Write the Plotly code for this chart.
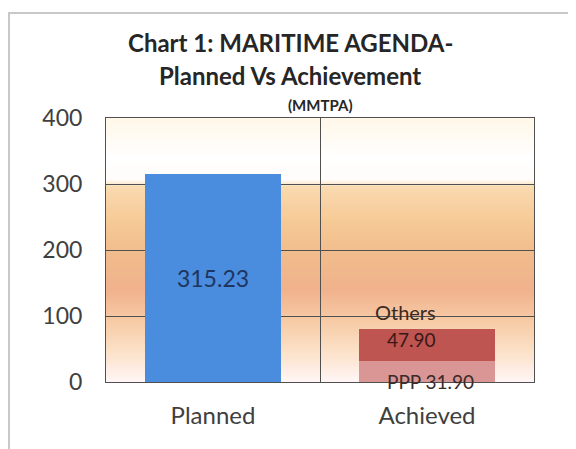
import plotly.graph_objects as go

# ---- data ----
categories = ["Planned", "Achieved"]
planned_values = [315.23, None]
ppp_values = [None, 31.90]
others_values = [None, 47.90]
y_ticks = [0, 100, 200, 300, 400]

FONT = "Lato"

fig = go.Figure()
fig.add_trace(go.Bar(
    x=categories, y=planned_values, marker=dict(color="#4A8CDD", line=dict(width=0)),
    text=[f"{v:.2f}" if v is not None else "" for v in planned_values],
    textposition="inside", insidetextanchor="middle",
    textfont=dict(family=FONT, size=23, color="#1F3560"),
    showlegend=False, hoverinfo="skip",
))
fig.add_trace(go.Bar(
    x=categories, y=ppp_values, marker=dict(color="#D99694", line=dict(width=0)),
    showlegend=False, hoverinfo="skip",
))
fig.add_trace(go.Bar(
    x=categories, y=others_values, marker=dict(color="#BE5550", line=dict(width=0)),
    showlegend=False, hoverinfo="skip",
))

# background gradient (styling only)
stops = [
    (0.00, (255, 246, 246)),
    (0.10, (252, 228, 206)),
    (0.22, (247, 205, 168)),
    (0.35, (240, 178, 140)),
    (0.48, (241, 187, 140)),
    (0.62, (246, 203, 152)),
    (0.74, (250, 218, 176)),
    (0.765, (255, 252, 250)),
    (0.85, (255, 255, 255)),
    (1.00, (255, 247, 232)),
]
def col_at(t):
    for (t0, c0), (t1, c1) in zip(stops, stops[1:]):
        if t0 <= t <= t1:
            f = (t - t0) / (t1 - t0) if t1 > t0 else 0
            return "rgb(%d,%d,%d)" % tuple(round(a + (b - a) * f) for a, b in zip(c0, c1))
    return "rgb(255,255,255)"

# page body has an 8px margin: figure occupies screen pixels 8..576 x 8..449
PL, PR, PT, PB = 106, 534, 118, 382  # plot area in screen pixels
PW, PH = PR - PL, PB - PT
def px(x):
    return (x - PL) / PW
def py(y):
    return (PB - y) / PH

shapes = []
N = 132
for i in range(N):
    t0 = i / N
    t1 = (i + 1) / N
    shapes.append(dict(type="rect", xref="paper", yref="paper", x0=0, x1=1, y0=t0, y1=t1,
                       fillcolor=col_at((t0 + t1) / 2), line=dict(width=0), layer="below"))
# outer chart border
shapes.append(dict(type="rect", xref="paper", yref="paper",
                   x0=px(9), x1=px(600), y0=py(470), y1=py(13),
                   line=dict(color="#C8C8C8", width=2), fillcolor="rgba(0,0,0,0)", layer="above"))

annotations = [
    dict(text="<b>Chart 1: MARITIME AGENDA-</b>", xref="paper", yref="paper",
         x=px(290), y=py(43), showarrow=False,
         font=dict(family=FONT, size=24, color="#262626"), xanchor="center", yanchor="middle"),
    dict(text="<b>Planned Vs Achievement</b>", xref="paper", yref="paper",
         x=px(290), y=py(75), showarrow=False,
         font=dict(family=FONT, size=24, color="#262626"), xanchor="center", yanchor="middle"),
    dict(text="<b>(MMTPA)</b>", xref="paper", yref="paper",
         x=px(320), y=py(105), showarrow=False,
         font=dict(family=FONT, size=15, color="#262626"), xanchor="center", yanchor="middle"),
    dict(text="Others", x="Achieved", y=ppp_values[1] + others_values[1], yanchor="bottom",
         yshift=3, xshift=-22, showarrow=False,
         font=dict(family=FONT, size=20, color="#3A2A22")),
    dict(text=f"{others_values[1]:.2f}", x="Achieved", y=ppp_values[1] + others_values[1],
         yanchor="top", yshift=3, xshift=-16, showarrow=False,
         font=dict(family=FONT, size=19, color="#3A1818")),
    dict(text=f"PPP {ppp_values[1]:.2f}", x="Achieved", y=0, yanchor="middle",
         yshift=1, xshift=3, showarrow=False,
         font=dict(family=FONT, size=19, color="#3A2A2A")),
]

fig.update_layout(
    barmode="stack", bargap=0.36,
    width=568, height=441,
    margin=dict(l=PL - 8, r=576 - PR, t=PT - 8, b=449 - PB),
    paper_bgcolor="white", plot_bgcolor="white",
    shapes=shapes, annotations=annotations,
    font=dict(family=FONT, color="#404040"),
)
fig.update_xaxes(
    type="category", categoryorder="array", categoryarray=categories,
    showgrid=True, gridcolor="#505050", gridwidth=1, tickson="boundaries", ticks="",
    showline=True, linecolor="#505050", linewidth=1, mirror=True,
    tickfont=dict(family=FONT, size=24, color="#404040"), ticklabelstandoff=12,
)
fig.update_yaxes(
    range=[0, 400], tickvals=y_ticks, showgrid=True, gridcolor="#505050", gridwidth=1,
    showline=True, linecolor="#505050", linewidth=1, mirror=True, zeroline=False,
    tickfont=dict(family=FONT, size=23, color="#404040"), ticklabelstandoff=18,
)

fig.write_html("out.html")
